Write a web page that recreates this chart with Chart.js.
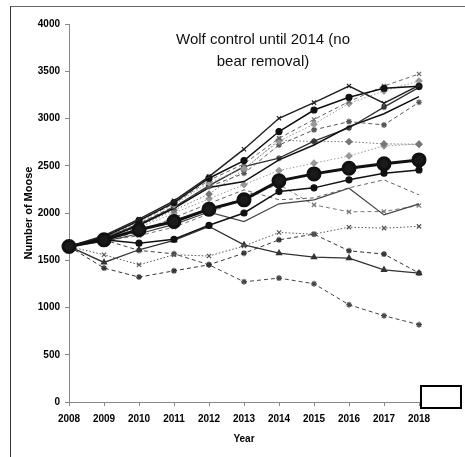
<!DOCTYPE html>
<html>
<head>
<meta charset="utf-8">
<script src="https://cdn.jsdelivr.net/npm/chart.js@4.4.1/dist/chart.umd.min.js"></script>
<style>
  html, body { margin: 0; padding: 0; background: #fff; }
  #wrap { position: relative; width: 465px; height: 457px; overflow: hidden; }
  #frame { position: absolute; left: 10px; top: 6px; right: -2px; bottom: -2px;
           border-left: 1px solid #333; border-top: 1px solid #666; }
  #legendBox { position: absolute; left: 420px; top: 385px; width: 38px; height: 20px;
               border: 2px solid #000; background: #fff; }
  canvas { position: absolute; left: 0; top: 0; }
</style>
</head>
<body>
<div id="wrap">
  <canvas id="chart-moose" width="465" height="457"></canvas>
  <div id="frame"></div>
  <div id="legendBox"></div>
</div>
<script>
const years = ["2008", "2009", "2010", "2011", "2012", "2013", "2014", "2015", "2016", "2017", "2018"];
const yTicks = [0, 500, 1000, 1500, 2000, 2500, 3000, 3500, 4000];

// simulation runs, moose counts per year
const meanRun = [1646, 1716, 1822, 1910, 2040, 2139, 2340, 2414, 2474, 2520, 2562];
const run1 = [1646, 1760, 1935, 2129, 2386, 2675, 3002, 3168, 3344, 3161, 3350];
const run2 = [1646, 1745, 1920, 2110, 2368, 2555, 2862, 3090, 3225, 3320, 3340];
const run3 = [1646, 1752, 1915, 2100, 2345, 2520, 2790, 2990, 3179, 3344, 3471];
const run4 = [1646, 1748, 1905, 2090, 2320, 2470, 2760, 2940, 3160, 3290, 3397];
const run5 = [1646, 1738, 1890, 2069, 2280, 2420, 2720, 2880, 2967, 2932, 3172];
const run6 = [1646, 1722, 1870, 2050, 2270, 2333, 2562, 2720, 2914, 3050, 3232];
const run7 = [1646, 1735, 1880, 2060, 2290, 2490, 2580, 2760, 2900, 3120, 3330];
const run8 = [1646, 1728, 1860, 2030, 2200, 2460, 2773, 2755, 2755, 2731, 2728];
const run9 = [1646, 1720, 1845, 2000, 2150, 2300, 2450, 2527, 2604, 2710, 2728];
const run10 = [1646, 1716, 1681, 1722, 1870, 2000, 2228, 2266, 2351, 2421, 2456];
const run11 = [1646, 1712, 1800, 1950, 2100, 2245, 2140, 2160, 2266, 2351, 2192];
const run12 = [1646, 1700, 1780, 1880, 2010, 1910, 2097, 2139, 2262, 1980, 2097];
const run13 = [1646, 1705, 1760, 1850, 1990, 2180, 2300, 2086, 2012, 2016, 2080];
const run14 = [1646, 1558, 1452, 1558, 1545, 1650, 1794, 1776, 1850, 1840, 1858];
const run15 = [1646, 1477, 1611, 1709, 1857, 1663, 1575, 1533, 1522, 1399, 1364];
const run16 = [1646, 1417, 1322, 1388, 1452, 1575, 1716, 1776, 1600, 1565, 1364];
const run17 = [1646, 1716, 1604, 1568, 1452, 1272, 1311, 1251, 1029, 913, 818];

const DASH = [4, 3];
const DOT = [1.5, 2];

function run(data, color, dash, marker, width) {
	return {
		data: data,
		borderColor: color,
		backgroundColor: color,
		borderWidth: width || 1,
		borderDash: dash,
		pointStyle: marker || "circle",
		pointRadius: marker ? 3 : 0,
		pointBorderColor: color,
		pointBackgroundColor: color,
		pointBorderWidth: 1.2,
		tension: 0,
	};
}

const datasets = [
	{
		data: meanRun,
		borderColor: "#111",
		borderWidth: 3,
		pointStyle: "circle",
		pointRadius: 6,
		pointBackgroundColor: "#1a1a1a",
		pointBorderColor: "#111",
	},
	run(run1, "#222", [], "crossRot", 1.5),
	run(run2, "#111", [], "circle", 1.5),
	run(run3, "#666", DASH, "crossRot"),
	run(run4, "#999", DOT, "rectRot"),
	run(run5, "#555", DASH, "star"),
	run(run6, "#111", [], null, 1.5),
	run(run7, "#333", [], "star", 1.3),
	run(run8, "#777", DOT, "rectRot"),
	run(run9, "#999", DOT, "rectRot"),
	run(run10, "#111", [], "circle", 1.5),
	run(run11, "#666", DASH, null),
	run(run12, "#444", [], null, 1.2),
	run(run13, "#777", DASH, "crossRot"),
	run(run14, "#555", DOT, "crossRot"),
	run(run15, "#333", [], "triangle", 1.3),
	run(run16, "#333", DASH, "star"),
	run(run17, "#444", DASH, "star"),
];

// title sits inside the plot area
const innerTitle = {
	id: "innerTitle",
	afterDraw(chart) {
		const c = chart.ctx;
		c.save();
		c.fillStyle = "#111";
		c.font = '15px "Liberation Sans", Arial, sans-serif';
		c.textAlign = "center";
		c.textBaseline = "middle";
		c.fillText("Wolf control until 2014 (no", 263, 40);
		c.fillText("bear removal)", 263, 62);
		c.restore();
	},
};

const tickFont = { family: '"Liberation Sans", Arial, sans-serif', size: 10, weight: "bold" };

new Chart(document.getElementById("chart-moose"), {
	type: "line",
	data: { labels: years, datasets: datasets },
	plugins: [innerTitle],
	options: {
		responsive: false,
		animation: false,
		layout: { padding: { left: 14, right: 46, top: 24, bottom: 5 } },
		plugins: { legend: { display: false }, tooltip: { enabled: false } },
		scales: {
			x: {
				type: "category",
				offset: false,
				afterFit: (s) => { s.height = 50; },
				grid: { drawOnChartArea: false, drawTicks: true, tickLength: 4, color: "#888" },
				border: { color: "#888", width: 1 },
				ticks: { font: tickFont, color: "#000", padding: 7, maxRotation: 0, autoSkip: false },
				title: {
					display: true,
					text: "Year",
					color: "#000",
					font: tickFont,
					padding: { top: 0, bottom: 7 },
				},
			},
			y: {
				min: 0,
				max: 4000,
				afterFit: (s) => { s.width = 55; },
				afterBuildTicks: (s) => { s.ticks = yTicks.map((v) => ({ value: v })); },
				grid: { drawOnChartArea: false, drawTicks: true, tickLength: 4, color: "#888" },
				border: { color: "#888", width: 1 },
				ticks: { font: tickFont, color: "#000", padding: 5, callback: (v) => String(v) },
				title: {
					display: true,
					text: "Number of Moose",
					color: "#000",
					font: { family: '"Liberation Sans", Arial, sans-serif', size: 11, weight: "bold" },
					padding: { top: 8, bottom: 0 },
				},
			},
		},
	},
});
</script>
</body>
</html>
